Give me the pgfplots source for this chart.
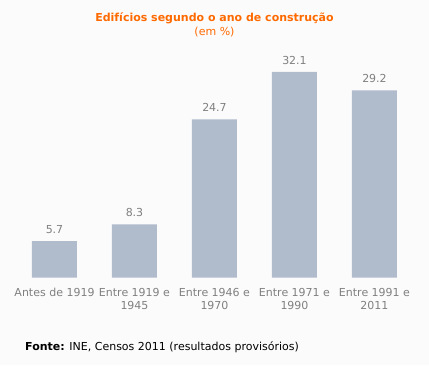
\documentclass[border=0pt]{standalone}
\usepackage{pgfplots}
\pgfplotsset{compat=1.18}
\usepackage{fontspec}
\setmainfont{DejaVu Sans}
\definecolor{bg}{HTML}{FBFBFB}
\definecolor{barc}{HTML}{B0BCCC}
\definecolor{titc}{HTML}{FF6A00}
\definecolor{txtc}{HTML}{808080}
\begin{document}
\begin{tikzpicture}
\fill[bg] (0,0) rectangle (429pt,365pt);
\node[font=\fontsize{11}{13}\selectfont\bfseries, text=titc] at (214.5pt,347pt) {Edifícios segundo o ano de construção};
\node[font=\fontsize{11}{13}\selectfont, text=titc] at (214.5pt,333pt) {(em \%)};
\node[font=\fontsize{11}{13}\selectfont, text=black, anchor=west, inner sep=0pt] at (25pt,18pt) {\textbf{Fonte:} INE, Censos 2011 (resultados provisórios)};
\begin{axis}[
  at={(14.5pt,87.3pt)}, anchor=south west,
  scale only axis, width=400pt, height=224.4pt,
  xmin=-0.5, xmax=4.5, ymin=0, ymax=35,
  axis lines=none,
  clip=false,
  ybar, bar width=45pt,
  /pgf/number format/assume math mode=true,
  nodes near coords,
  every node near coord/.append style={font=\fontsize{11}{13}\selectfont, text=txtc, anchor=base, inner sep=0pt, yshift=7.7pt},
]
\addplot[fill=barc, draw=none] coordinates {(0,5.7) (1,8.3) (2,24.7) (3,32.1) (4,29.2)};
\end{axis}
\begin{axis}[
  at={(14.5pt,87.3pt)}, anchor=south west,
  scale only axis, width=400pt, height=224.4pt,
  xmin=-0.5, xmax=4.5, ymin=0, ymax=35,
  axis x line=bottom, axis y line=none,
  x axis line style={draw=none},
  major tick length=0pt,
  xtick={0,1,2,3,4},
  xticklabels={Antes de 1919,{Entre 1919 e\\1945},{Entre 1946 e\\1970},{Entre 1971 e\\1990},{Entre 1991 e\\2011}},
  xticklabel style={font=\fontsize{11}{13}\selectfont, text=txtc, align=center, anchor=north, inner sep=0pt, yshift=-10pt},
]
\addplot[draw=none] coordinates {(0,0)};
\end{axis}
\end{tikzpicture}
\end{document}
